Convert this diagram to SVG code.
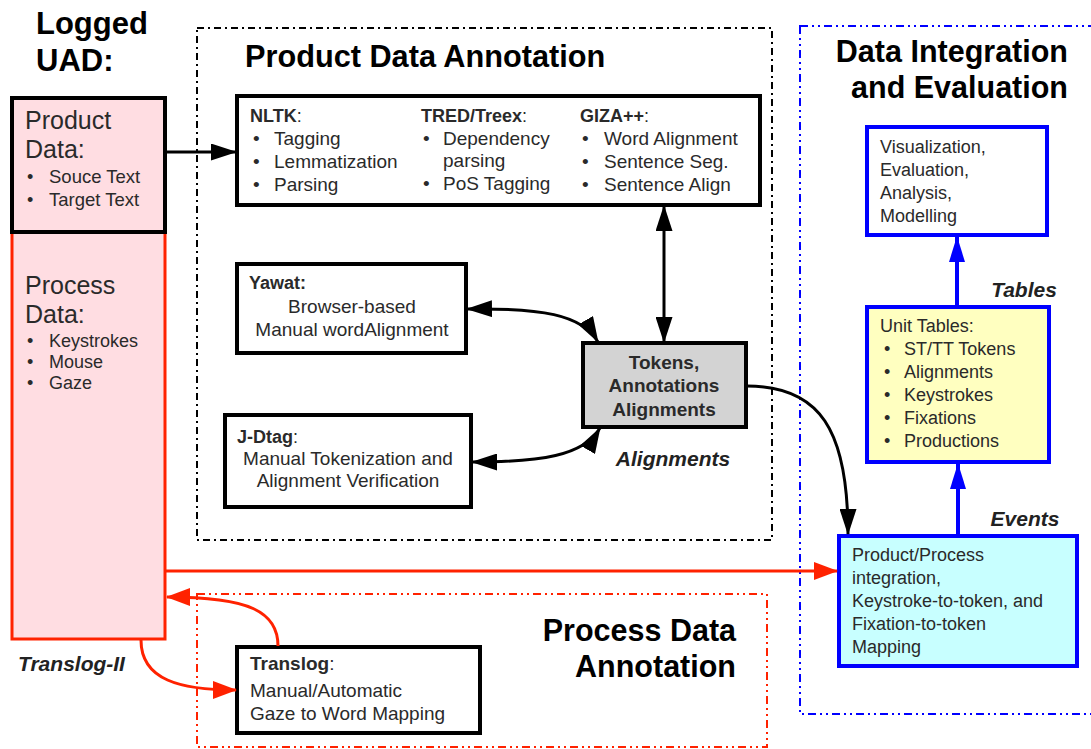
<svg xmlns="http://www.w3.org/2000/svg" width="1091" height="749" viewBox="0 0 1091 749">
<style>
text{font-family:"Liberation Sans",Arial,sans-serif;fill:#2a2a2a}
.h{font-weight:bold;fill:#000}
.b{font-weight:bold}
.bi{font-weight:bold;font-style:italic;fill:#222}
.t18{font-size:18px}
.t19{font-size:19px}
.mid{text-anchor:middle}
.box{fill:#fff;stroke:#000;stroke-width:4}
.bbox{stroke:#0000ff;stroke-width:4}
.con{fill:none;stroke:#000;stroke-width:3}
.red{fill:none;stroke:#ff2200;stroke-width:3}
.blue{fill:none;stroke:#0000ff;stroke-width:4}
.grp{fill:none;stroke-width:2}
</style>
<defs>
<marker id="ak" markerUnits="userSpaceOnUse" markerWidth="26" markerHeight="17" viewBox="0 0 26 17" refX="25" refY="8.5" orient="auto-start-reverse"><path d="M0,0 L26,8.5 L0,17 z" fill="#000"/></marker>
<marker id="ar" markerUnits="userSpaceOnUse" markerWidth="24" markerHeight="18" viewBox="0 0 24 18" refX="23" refY="9" orient="auto-start-reverse"><path d="M0,0 L24,9 L0,18 z" fill="#ff2200"/></marker>
<marker id="ab" markerUnits="userSpaceOnUse" markerWidth="26" markerHeight="16" viewBox="0 0 26 16" refX="25" refY="8" orient="auto"><path d="M0,0 L26,8 L0,16 z" fill="#0000ff"/></marker>
</defs>
<rect width="1091" height="749" fill="#fff"/>

<g id="groups">
<rect x="197" y="28" width="575" height="512" class="grp" stroke="#000" stroke-dasharray="7 4 2 4"/>
<rect x="800" y="26" width="300" height="688" class="grp" stroke="#0000ff" stroke-width="3" stroke-dasharray="8 4 2 4 2 4"/>
<rect x="197" y="594" width="570" height="153" class="grp" stroke="#ff2200" stroke-width="3" stroke-dasharray="8 4 2 4 2 4"/>
<text class="h" x="36" y="34" font-size="31">Logged</text>
<text class="h" x="36" y="71" font-size="31">UAD:</text>
<text class="h" x="245" y="67" font-size="30.7">Product Data Annotation</text>
<text class="h" x="1068" y="62" font-size="30.5" text-anchor="end">Data Integration</text>
<text class="h" x="1068" y="98" font-size="30.5" text-anchor="end">and Evaluation</text>
<text class="h" x="736" y="641" font-size="30.5" text-anchor="end">Process Data</text>
<text class="h" x="736" y="677" font-size="30.5" text-anchor="end">Annotation</text>
</g>

<g id="uad">
<rect x="12" y="98" width="153" height="541" fill="#ffdde2"/>
<rect x="12" y="232" width="153" height="407" fill="none" stroke="#ff2200" stroke-width="3"/>
<rect x="12" y="98" width="153" height="134" fill="none" stroke="#000" stroke-width="4"/>
<text x="25" y="129" font-size="25">Product</text>
<text x="25" y="158" font-size="25">Data:</text>
<text x="27" y="183" class="t18">•</text><text x="49" y="183" font-size="18.5">Souce Text</text>
<text x="27" y="206" class="t18">•</text><text x="49" y="206" font-size="18.5">Target Text</text>
<text x="25" y="294" font-size="25">Process</text>
<text x="25" y="323" font-size="25">Data:</text>
<text x="27" y="347" class="t18">•</text><text x="49" y="347" class="t18">Keystrokes</text>
<text x="27" y="368" class="t18">•</text><text x="49" y="368" class="t18">Mouse</text>
<text x="27" y="389" class="t18">•</text><text x="49" y="389" class="t18">Gaze</text>
<text class="bi" x="18" y="671" font-size="21">Translog-II</text>
</g>

<g id="tools">
<rect x="237" y="96" width="523" height="109" class="box"/>
<text x="250" y="122" class="t18"><tspan class="b">NLTK</tspan>:</text>
<text x="253" y="145" class="t19">•</text><text x="274" y="145" class="t19">Tagging</text>
<text x="253" y="168" class="t19">•</text><text x="274" y="168" class="t19">Lemmatization</text>
<text x="253" y="191" class="t19">•</text><text x="274" y="191" class="t19">Parsing</text>
<text x="421" y="122" class="t18"><tspan class="b">TRED/Treex</tspan>:</text>
<text x="423" y="145" class="t19">•</text><text x="443" y="145" class="t19">Dependency</text>
<text x="443" y="167" class="t19">parsing</text>
<text x="423" y="190" class="t19">•</text><text x="443" y="190" class="t19">PoS Tagging</text>
<text x="580" y="122" class="t18"><tspan class="b">GIZA++</tspan>:</text>
<text x="582" y="145" class="t19">•</text><text x="604" y="145" class="t19">Word Alignment</text>
<text x="582" y="168" class="t19">•</text><text x="604" y="168" class="t19">Sentence Seg.</text>
<text x="582" y="191" class="t19">•</text><text x="604" y="191" class="t19">Sentence Align</text>
</g>

<g id="yawat">
<rect x="237" y="264" width="229" height="89" class="box"/>
<text x="249" y="289" class="t18 b">Yawat:</text>
<text x="352" y="313" class="t19 mid">Browser-based</text>
<text x="352" y="336" class="t19 mid">Manual wordAlignment</text>
</g>

<g id="jdtag">
<rect x="225" y="415" width="246" height="92" class="box"/>
<text x="237" y="443" class="t18"><tspan class="b">J-Dtag</tspan>:</text>
<text x="348" y="465" class="t19 mid">Manual Tokenization and</text>
<text x="348" y="487" class="t19 mid">Alignment Verification</text>
</g>

<g id="tokens">
<rect x="583" y="343" width="163" height="84" fill="#d3d3d3" stroke="#000" stroke-width="4"/>
<text x="664" y="369" class="t19 b mid">Tokens,</text>
<text x="664" y="392" class="t19 b mid">Annotations</text>
<text x="664" y="416" class="t19 b mid">Alignments</text>
<text x="673" y="466" class="bi mid" font-size="21">Alignments</text>
</g>

<g id="translog">
<rect x="237" y="647" width="243" height="86" class="box"/>
<text x="250" y="670" class="t19"><tspan class="b">Translog</tspan>:</text>
<text x="250" y="697" class="t19">Manual/Automatic</text>
<text x="250" y="720" class="t19">Gaze to Word Mapping</text>
</g>

<g id="visualization">
<rect x="867" y="127" width="180" height="108" class="box bbox"/>
<text x="880" y="153" class="t18">Visualization,</text>
<text x="880" y="176" class="t18">Evaluation,</text>
<text x="880" y="199" class="t18">Analysis,</text>
<text x="880" y="222" class="t18">Modelling</text>
</g>

<g id="unittables">
<rect x="867" y="307" width="182" height="155" fill="#ffffc0" class="bbox"/>
<text x="880" y="332" class="t18">Unit Tables:</text>
<text x="884" y="355" class="t18">•</text><text x="904" y="355" class="t18">ST/TT Tokens</text>
<text x="884" y="378" class="t18">•</text><text x="904" y="378" class="t18">Alignments</text>
<text x="884" y="401" class="t18">•</text><text x="904" y="401" class="t18">Keystrokes</text>
<text x="884" y="424" class="t18">•</text><text x="904" y="424" class="t18">Fixations</text>
<text x="884" y="447" class="t18">•</text><text x="904" y="447" class="t18">Productions</text>
<text x="1024" y="297" class="bi mid" font-size="21">Tables</text>
</g>

<g id="integration">
<rect x="839" y="536" width="238" height="130" fill="#c8ffff" class="bbox"/>
<text x="852" y="561" class="t18">Product/Process</text>
<text x="852" y="584" class="t18">integration,</text>
<text x="852" y="607" class="t18">Keystroke-to-token, and</text>
<text x="852" y="630" class="t18">Fixation-to-token</text>
<text x="852" y="653" class="t18">Mapping</text>
<text x="1025" y="526" class="bi mid" font-size="21">Events</text>
</g>

<g id="connectors">
<path d="M165,152 L236,152" class="con" marker-end="url(#ak)"/>
<path d="M664,206 L664,342" class="con" marker-start="url(#ak)" marker-end="url(#ak)"/>
<path d="M467,309 C540,308 582,314 598,342" class="con" marker-start="url(#ak)" marker-end="url(#ak)"/>
<path d="M472,462 C540,462 584,456 600,428" class="con" marker-start="url(#ak)" marker-end="url(#ak)"/>
<path d="M747,386 C820,386 848,430 848,534" class="con" marker-end="url(#ak)"/>
<path d="M165,571 L837,571" class="red" marker-end="url(#ar)"/>
<path d="M278,646 C278,612 250,597 167,597" class="red" marker-end="url(#ar)"/>
<path d="M141,640 C141,680 180,690 236,690" class="red" marker-end="url(#ar)"/>
<path d="M957,305 L957,237" class="blue" marker-end="url(#ab)"/>
<path d="M958,534 L958,464" class="blue" marker-end="url(#ab)"/>
</g>
</svg>
